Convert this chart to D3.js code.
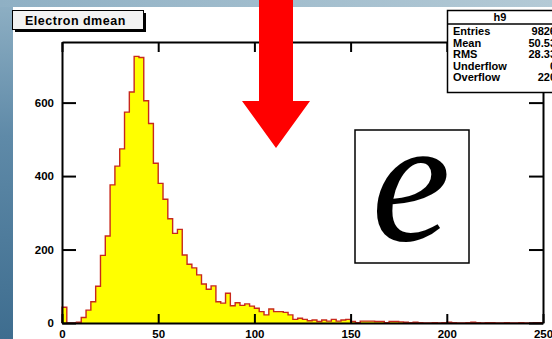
<!DOCTYPE html>
<html>
<head>
<meta charset="utf-8">
<script src="https://cdn.jsdelivr.net/npm/d3@7"></script>
<style>
  body{margin:0;padding:0;overflow:hidden;}
  svg{display:block;font-family:"Liberation Sans",Arial,sans-serif;}
  .lab{font-weight:bold;font-size:11.5px;fill:#000;}
</style>
</head>
<body>
<div id="chart"></div>
<script>
// histogram h9 : 100 bins from 0 to 250
var xLow=0, xHigh=250, binWidth=2.5;
var counts=[43,0,0,2,15,35,58,100,184,237,
            376,427,474,574,629,726,723,605,543,435,
            380,337,284,244,255,185,160,150,131,106,
            92,101,58,54,81,47,55,48,52,46,
            40,31,22,38,31,31,29,22,10,13,
            10,6,8,4,8,5,10,5,8,10,
            4,1,5,5,5,4,4,1,4,4,
            3,2,1,2,1,0,0,1,0,1,
            2,1,0,0,1,2,1,0,1,1,
            0,0,1,0,0,1,0,0,1,1];
var xTicks=[0,50,100,150,200,250];
var yTicks=[0,200,400,600];
var histTitle="Electron dmean";
var statNames=["Entries","Mean","RMS","Underflow","Overflow"];
var statValues=["9826","50.53","28.33","0","220"];

var W=552,H=339;
var svg=d3.select("#chart").append("svg").attr("width",W).attr("height",H);

//background : blue desktop behind a white canvas
var defs=svg.append("defs");
var g1=defs.append("linearGradient").attr("id","leftBg").attr("x1",0).attr("y1",0).attr("x2",0).attr("y2",1);
g1.append("stop").attr("offset","0%").attr("stop-color","#8fb0c4");
g1.append("stop").attr("offset","40%").attr("stop-color","#5f8aa8");
g1.append("stop").attr("offset","100%").attr("stop-color","#3e6d8f");
var g2=defs.append("linearGradient").attr("id","topBg").attr("x1",0).attr("y1",0).attr("x2",1).attr("y2",0);
g2.append("stop").attr("offset","0%").attr("stop-color","#8fb0c4");
g2.append("stop").attr("offset","100%").attr("stop-color","#b4cad6");
svg.append("rect").attr("width",W).attr("height",H).attr("fill","url(#leftBg)");
svg.append("rect").attr("x",0).attr("y",0).attr("width",W).attr("height",7).attr("fill","url(#topBg)");
svg.append("rect").attr("x",13).attr("y",7).attr("width",W-13).attr("height",H-7).attr("fill","#fff");

var x=d3.scaleLinear().domain([xLow,xHigh]).range([62,543]);
var y=d3.scaleLinear().domain([0,765]).range([323,42]);

//histogram
var pts=[];
counts.forEach(function(c,i){pts.push({x:xLow+i*binWidth,c:c});});
pts.push({x:xHigh,c:counts[counts.length-1]});

var area=d3.area().curve(d3.curveStepAfter).x(function(d){return x(d.x)}).y0(y(0)).y1(function(d){return y(d.c)});
svg.append("path").datum(pts).attr("d",area).attr("fill","#ffff00");

var line=d3.line().curve(d3.curveStepAfter).x(function(d){return x(d.x)}).y(function(d){return y(d.c)});
var outline=[{x:xLow,c:0}].concat(pts).concat([{x:xHigh,c:0}]);
svg.append("path").datum(outline).attr("d",line)
    .attr("fill","none").attr("stroke","#c8281c").attr("stroke-width",1.4);

//frame + axes
var ax=svg.append("g").attr("transform","translate(0,"+y(0)+")")
    .call(d3.axisBottom(x).tickValues(xTicks).tickSize(-9).tickSizeOuter(0).tickPadding(7));
var ay=svg.append("g").attr("transform","translate("+x(0)+",0)")
    .call(d3.axisLeft(y).tickValues(yTicks).tickSize(-14).tickSizeOuter(0).tickPadding(8));
var at=svg.append("g").attr("transform","translate(0,"+y.range()[1]+")")
    .call(d3.axisTop(x).tickValues(xTicks).tickSize(-10).tickSizeOuter(0).tickFormat(""));
var ar=svg.append("g").attr("transform","translate("+x.range()[1]+",0)")
    .call(d3.axisRight(y).tickValues(yTicks).tickSize(-14).tickSizeOuter(0).tickFormat(""));
[ax,ay,at,ar].forEach(function(a){
    a.selectAll("path,line").attr("stroke","#000").attr("stroke-width",2);
    a.selectAll("text").attr("class","lab").attr("fill","#000");
    a.attr("font-family",null).attr("font-size",null);
});

//title box
svg.append("rect").attr("x",15).attr("y",13).attr("width",131).attr("height",19).attr("fill","#000");
svg.append("rect").attr("x",12.5).attr("y",10.5).attr("width",131).attr("height",19).attr("fill","#f2f2f2").attr("stroke","#000").attr("stroke-width",1);
svg.append("text").attr("x",25).attr("y",24.5).attr("font-weight","bold").attr("font-size","12.5px").attr("letter-spacing","0.5px").text(histTitle);

//stats box
svg.append("rect").attr("x",447.5).attr("y",10.5).attr("width",120).attr("height",82).attr("fill","#fff").attr("stroke","#000").attr("stroke-width",1.5);
svg.append("line").attr("x1",447).attr("x2",560).attr("y1",24).attr("y2",24).attr("stroke","#000").attr("stroke-width",1.5);
svg.append("text").attr("x",500).attr("y",21).attr("text-anchor","middle").attr("font-weight","bold").attr("font-size","11px").text("h9");
statNames.forEach(function(n,i){
    svg.append("text").attr("x",453).attr("y",35+i*11.5).attr("font-weight","bold").attr("font-size","11px").text(n);
    svg.append("text").attr("x",556).attr("y",35+i*11.5).attr("text-anchor","end").attr("font-weight","bold").attr("font-size","11px").text(statValues[i]);
});

//red arrow
svg.append("path").attr("d","M259,0H293V101H310L276,148L242,101H259Z").attr("fill","#ff0000");

//e box
svg.append("rect").attr("x",355).attr("y",130).attr("width",114).attr("height",133).attr("fill","#fff").attr("stroke","#000").attr("stroke-width",1.5);
svg.append("text").attr("x",411).attr("y",240).attr("text-anchor","middle")
    .attr("font-family","'Liberation Serif','Times New Roman',serif").attr("font-style","italic").attr("font-size","178px").text("e");
</script>
</body>
</html>
